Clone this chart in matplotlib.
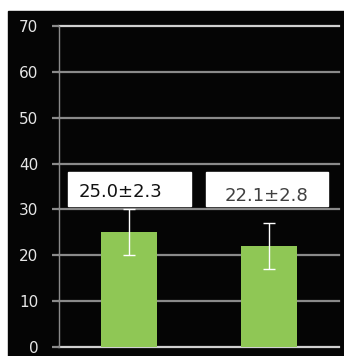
import matplotlib.pyplot as plt
from matplotlib.patches import Rectangle

groups = ["A", "B"]
means = [25.0, 22.1]
err = [5.0, 5.0]
labels = ["25.0±2.3", "22.1±2.8"]
yticks = [0, 10, 20, 30, 40, 50, 60, 70]

W, H = 344, 356
fig = plt.figure(figsize=(W / 100, H / 100), dpi=100, facecolor="white")
# black panel behind the plot
fig.patches.append(Rectangle((8 / W, 0), 1 - 8 / W, 1 - 11 / H,
                             transform=fig.transFigure, color="#050505", zorder=-1))

ax = fig.add_axes([59 / W, 9 / H, 280 / W, 321 / H])
ax.set_facecolor("none")
ax.set_xlim(-0.5, 1.5)
ax.set_ylim(0, 70)

x = list(range(len(groups)))
ax.bar(x, means, width=0.4, color="#8fc755", zorder=2)
ax.errorbar(x, means, yerr=err, fmt="none", ecolor="white", elinewidth=1,
            capsize=4, capthick=1, zorder=3)

for y in yticks:
    c = "#d0d0d0" if y in (0, 70) else "#8a8a8a"
    ax.axhline(y, color=c, lw=1.6, zorder=1, clip_on=False)

ax.set_yticks(yticks)
ax.set_xticks([])
ax.tick_params(axis="y", length=5, width=1.6, color="#8a8a8a", pad=10,
               labelcolor="#e6e6e6", labelsize=11)
for s in ["top", "right", "bottom"]:
    ax.spines[s].set_visible(False)
ax.spines["left"].set_color("#8a8a8a")
ax.spines["left"].set_linewidth(1)

# value boxes above the bars: (left, right, text centre x, baseline y, colour)
boxes = [(68, 191, 120, 197, "#111111"), (206, 328, 267, 201, "#404040")]
for (x0, x1, xc, yb, tc), lab in zip(boxes, labels):
    fig.patches.append(Rectangle((x0 / W, 1 - 206 / H), (x1 - x0) / W, 34 / H,
                                 transform=fig.transFigure, color="white", zorder=4))
    fig.text(xc / W, 1 - yb / H, lab, ha="center", va="baseline",
             fontsize=13, color=tc, zorder=5)

fig.savefig("out.png", dpi=100, facecolor="white")
